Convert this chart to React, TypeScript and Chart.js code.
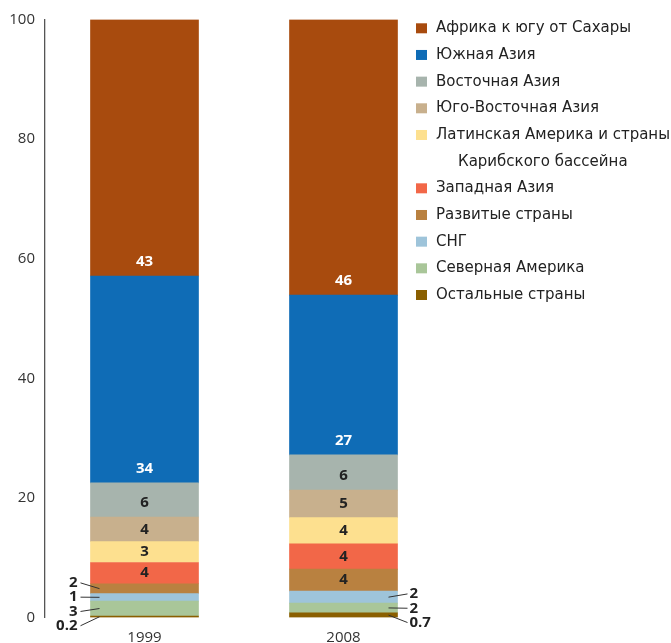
import React, { useEffect, useRef } from 'react';
import { Chart, registerables } from 'chart.js';

Chart.register(...registerables);

const categories = ['1999', '2008'];

// Series in legend order (top of the stack first)
const seriesNames = [
  'Африка к югу от Сахары',
  'Южная Азия',
  'Восточная Азия',
  'Юго-Восточная Азия',
  'Латинская Америка и страны\nКарибского бассейна',
  'Западная Азия',
  'Развитые страны',
  'СНГ',
  'Северная Америка',
  'Остальные страны',
];

const seriesColors = [
  '#A84B0E',
  '#0F6CB6',
  '#A7B4AD',
  '#C8B08D',
  '#FDE08F',
  '#F26748',
  '#B98140',
  '#9EC4DA',
  '#A9C699',
  '#8A5F00',
];

const africa = [42.9, 46.1];
const southAsia = [34.6, 26.7];
const eastAsia = [5.7, 5.9];
const seAsia = [4.1, 4.6];
const latinAmerica = [3.5, 4.4];
const westAsia = [3.55, 4.2];
const developed = [1.65, 3.7];
const cis = [1.25, 2.0];
const northAmerica = [2.5, 1.6];
const others = [0.25, 0.8];

const africaLabels = ['43', '46'];
const southAsiaLabels = ['34', '27'];
const eastAsiaLabels = ['6', '6'];
const seAsiaLabels = ['4', '5'];
const latinAmericaLabels = ['3', '4'];
const westAsiaLabels = ['4', '4'];
const developedLabels = ['2', '4'];
const cisLabels = ['1', '2'];
const northAmericaLabels = ['3', '2'];
const othersLabels = ['0.2', '0.7'];

const yTicks = [0, 20, 40, 60, 80, 100];

const seriesValues = [africa, southAsia, eastAsia, seAsia, latinAmerica, westAsia, developed, cis, northAmerica, others];
const seriesLabels = [
  africaLabels, southAsiaLabels, eastAsiaLabels, seAsiaLabels, latinAmericaLabels,
  westAsiaLabels, developedLabels, cisLabels, northAmericaLabels, othersLabels,
];

const FONT = '"Open Sans", "DejaVu Sans", sans-serif';
const LEGEND_FONT = '"DejaVu Sans", sans-serif';

const labelPlugin = {
  id: 'segmentLabels',
  afterDatasetsDraw(chart: any) {
    const ctx = chart.ctx;
    ctx.save();
    ctx.font = `bold 15px ${FONT}`;
    ctx.textBaseline = 'middle';
    const outside: any[][] = categories.map(() => []);
    chart.data.datasets.forEach((ds: any, di: number) => {
      const meta = chart.getDatasetMeta(di);
      const si = ds.seriesIndex;
      meta.data.forEach((bar: any, j: number) => {
        const p = bar.getProps(['x', 'y', 'base', 'width'], true);
        const top = Math.min(p.y, p.base);
        const bottom = Math.max(p.y, p.base);
        const text = seriesLabels[si][j];
        const v = ds.data[j];
        if (v >= 3) {
          const ty = Math.max((top + bottom) / 2, bottom - 14);
          ctx.fillStyle = si < 2 ? '#ffffff' : '#222222';
          ctx.textAlign = 'center';
          ctx.fillText(text, p.x, ty);
        } else {
          outside[j].push({ text, center: (top + bottom) / 2, x: p.x, width: p.width });
        }
      });
    });
    outside.forEach((group, j) => {
      if (!group.length) return;
      group.sort((a, b) => a.center - b.center);
      const mean = group.reduce((s, g) => s + g.center, 0) / group.length;
      const gap = 14.3;
      group.forEach((g, k) => {
        const ly = mean + 1.5 + (k - (group.length - 1) / 2) * gap;
        const left = j === 0;
        const edge = left ? g.x - g.width / 2 : g.x + g.width / 2;
        const inner = left ? edge + 9 : edge - 9;
        const outer = left ? edge - 10 : edge + 10;
        ctx.strokeStyle = '#333333';
        ctx.lineWidth = 1;
        ctx.beginPath();
        ctx.moveTo(outer, ly);
        ctx.lineTo(inner, g.center);
        ctx.stroke();
        ctx.fillStyle = '#222222';
        ctx.textAlign = left ? 'right' : 'left';
        ctx.fillText(g.text, left ? outer - 3 : outer + 2, ly);
      });
    });
    ctx.restore();
  },
};

const legendPlugin = {
  id: 'customLegend',
  afterDraw(chart: any) {
    const ctx = chart.ctx;
    ctx.save();
    ctx.font = `15px ${LEGEND_FONT}`;
    ctx.textBaseline = 'middle';
    ctx.textAlign = 'left';
    const lineH = 26.67;
    let y = 28.3;
    seriesNames.forEach((name, i) => {
      ctx.fillStyle = seriesColors[i];
      ctx.fillRect(416, y - 5, 11, 10);
      const lines = name.split('\n');
      ctx.fillStyle = '#222222';
      lines.forEach((ln, k) => {
        ctx.fillText(ln, k === 0 ? 436 : 458, y);
        y += lineH;
      });
    });
    ctx.restore();
  },
};

export default function App() {
  const canvasRef = useRef<HTMLCanvasElement | null>(null);

  useEffect(() => {
    if (!canvasRef.current) return;
    const datasets = seriesNames
      .map((name, i) => ({
        label: name,
        data: seriesValues[i],
        backgroundColor: seriesColors[i],
        borderWidth: 0,
        barThickness: 108,
        seriesIndex: i,
      }))
      .reverse();

    const chart = new Chart(canvasRef.current, {
      type: 'bar',
      data: { labels: categories, datasets: datasets as any },
      options: {
        animation: false,
        responsive: true,
        maintainAspectRatio: false,
        layout: { padding: { top: 19.5, right: 228, bottom: 0, left: 0 } },
        plugins: {
          legend: { display: false },
          tooltip: { enabled: false },
        },
        scales: {
          x: {
            stacked: true,
            grid: { display: false, drawTicks: false },
            border: { display: false },
            ticks: { color: '#333333', font: { family: FONT, size: 15 }, padding: 11 },
            afterFit: (scale: any) => { scale.height = 25.5; },
          },
          y: {
            stacked: true,
            min: 0,
            max: 100,
            grid: { display: false, drawTicks: false },
            border: { display: true, color: '#555555', width: 1.3 },
            afterBuildTicks: (scale: any) => { scale.ticks = yTicks.map((v) => ({ value: v })); },
            ticks: { color: '#333333', font: { family: FONT, size: 15 }, padding: 10 },
            afterFit: (scale: any) => { scale.width = 45; },
          },
        },
      },
      plugins: [labelPlugin, legendPlugin],
    });
    return () => chart.destroy();
  }, []);

  return (
    <div style={{ position: 'absolute', left: 0, top: 0, width: 671, height: 643 }}>
      <canvas ref={canvasRef} />
    </div>
  );
}
